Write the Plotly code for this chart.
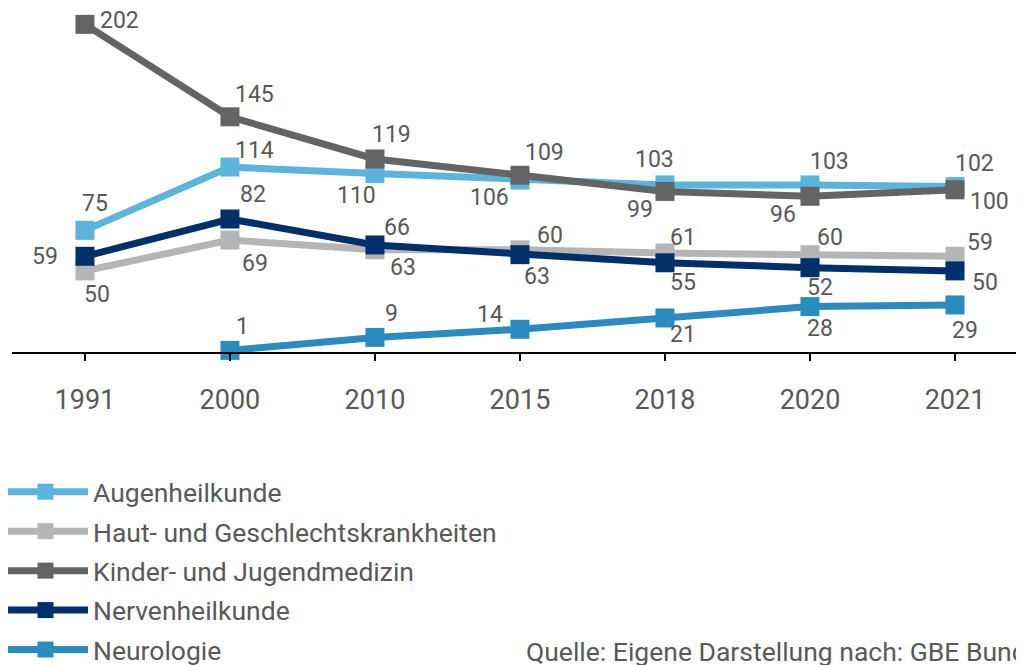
import plotly.graph_objects as go

years = ["1991", "2000", "2010", "2015", "2018", "2020", "2021"]

augenheilkunde = [75, 114, 110, 106, 103, 103, 102]
haut = [50, 69, 63, 63, 61, 60, 59]
kinder = [202, 145, 119, 109, 99, 96, 100]
nerven = [59, 82, 66, 60, 55, 52, 50]
neurologie = [None, 1, 9, 14, 21, 28, 29]

names = ["Augenheilkunde", "Haut- und Geschlechtskrankheiten",
         "Kinder- und Jugendmedizin", "Nervenheilkunde", "Neurologie"]
colors = ["#5bb4dc", "#b5b5b5", "#646464", "#00306a", "#2a8bbe"]

# label offsets in pixels (dx, dy-up)
offsets = [
    [(10, 27), (25, 17), (-18, -22), (-30, -17), (-10, 25), (20, 23), (20, 23)],
    [(12, -24), (25, -23), (28, -18), (17, -27), (18, 16), (20, 17), (25, 14)],
    [(35, 4), (25, 22), (17, 24), (25, 23), (-25, -18), (-27, -18), (35, -12)],
    [(-40, 0), (23, 25), (22, 17), (30, 19), (18, -20), (10, -20), (30, -12)],
    [(0, 0), (13, 24), (17, 24), (-30, 15), (18, -17), (10, -22), (10, -26)],
]

series = [augenheilkunde, haut, kinder, nerven, neurologie]

FONT = "Roboto"
TXT = "#595959"

W, H = 1016, 657          # page body has an 8px margin
ML, PH = 4, 344           # left margin, plot height
PW = W - ML

fig = go.Figure()
annotations = []
for i, (nm, vals, col) in enumerate(zip(names, series, colors)):
    fig.add_trace(go.Scatter(
        x=years, y=vals, name=nm, mode="lines+markers",
        line=dict(color=col, width=7),
        marker=dict(symbol="square", size=19, color=col),
        legendgroup=nm,
        cliponaxis=False,
        hoverinfo="skip",
    ))
    for j, v in enumerate(vals):
        if v is None:
            continue
        dx, dy = offsets[i][j]
        annotations.append(dict(
            x=j, y=v, xref="x", yref="y", text=str(v), showarrow=False,
            xshift=dx, yshift=dy, xanchor="center", yanchor="middle",
            font=dict(family=FONT, size=23, color=TXT),
        ))

annotations.append(dict(
    x=(516 - ML) / PW, y=(PH - 643) / PH, xref="paper", yref="paper",
    text="Quelle: Eigene Darstellung nach: GBE Bund", showarrow=False,
    xanchor="left", yanchor="middle",
    font=dict(family=FONT, size=26.5, color=TXT),
))

fig.update_layout(
    width=W, height=H,
    margin=dict(l=ML, r=0, t=0, b=H - PH, autoexpand=False),
    paper_bgcolor="white", plot_bgcolor="white",
    font=dict(family=FONT, color=TXT),
    showlegend=True,
    legend=dict(
        xref="paper", yref="paper",
        x=(-10 - ML) / PW, y=(PH - 460) / PH, xanchor="left", yanchor="top",
        orientation="v", itemwidth=85,
        font=dict(family=FONT, size=26.5, color=TXT),
        tracegroupgap=2, bgcolor="rgba(0,0,0,0)",
    ),
    annotations=annotations,
    xaxis=dict(
        type="category", range=[-0.503, 6.476],
        showgrid=False, zeroline=False,
        showline=True, linecolor="black", linewidth=2,
        ticks="outside", ticklen=7, tickwidth=2, tickcolor="black",
        tickfont=dict(family=FONT, size=27, color=TXT),
        ticklabelstandoff=16,
    ),
    yaxis=dict(
        range=[0, PH / 1.622], showgrid=False, zeroline=False,
        showline=False, showticklabels=False, ticks="",
    ),
)

fig.write_html("out.html")
